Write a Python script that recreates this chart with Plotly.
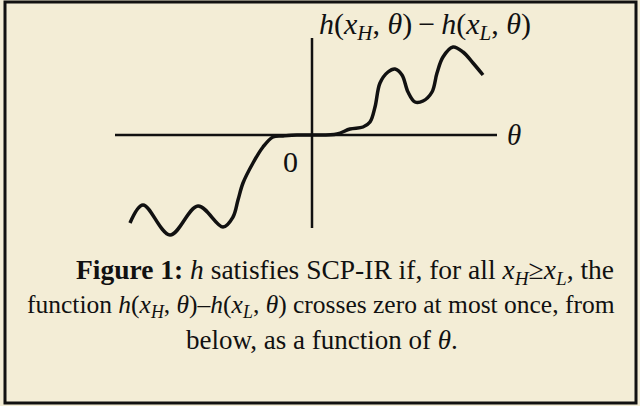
import plotly.graph_objects as go

# Sketch of h(x_H, θ) − h(x_L, θ) against θ (θ = 0 at the origin)
theta = [-18.2, -16.9, -14.2, -11.4, -8.9, -7.9, -7.4, -6.9, -5.9, -4.9, -3.9, -2.9,
         -1.5, 0.1, 2.5, 3.8, 5.1, 5.8, 6.3, 6.8, 7.6, 8.3, 9.0, 9.6, 10.3, 11.1,
         12.0, 12.5, 13.1, 14.1, 15.1, 16.1, 17.1]
h_diff = [-8.8, -7.0, -10.0, -7.1, -9.2, -8.2, -6.5, -4.8, -2.8, -1.2, -0.2, -0.1,
          0.0, 0.0, 0.1, 0.6, 0.8, 1.3, 2.8, 5.2, 6.3, 6.6, 6.0, 4.3, 3.3, 3.4,
          4.3, 6.2, 7.8, 8.8, 8.3, 7.2, 6.0]

# Extent of the drawn coordinate axes
theta_axis = [-19.7, 18.5]
h_axis = [-9.3, 9.7]

BG = "#f3edd6"
INK = "#111111"
SERIF = "Liberation Serif, Times New Roman, serif"

fig = go.Figure()

fig.add_trace(go.Scatter(x=theta_axis, y=[0, 0], mode="lines",
                         line=dict(color=INK, width=2.5), hoverinfo="skip"))
fig.add_trace(go.Scatter(x=[0, 0], y=h_axis, mode="lines",
                         line=dict(color=INK, width=2.5), hoverinfo="skip"))
fig.add_trace(go.Scatter(x=theta, y=h_diff, mode="lines",
                         line=dict(color=INK, width=3.5, shape="spline", smoothing=1.0),
                         hoverinfo="skip"))

fig.add_annotation(x=0.5, y=10.9, xanchor="left", yanchor="middle", showarrow=False,
                   text="<i>h</i>(<i>x</i><sub><i>H</i></sub>, <i>θ</i>)\u2009−\u2009<i>h</i>(<i>x</i><sub><i>L</i></sub>, <i>θ</i>)",
                   font=dict(family=SERIF, size=30, color=INK))
fig.add_annotation(x=20.2, y=0.0, xanchor="center", yanchor="middle", showarrow=False,
                   text="<i>θ</i>", font=dict(family=SERIF, size=29, color=INK))
fig.add_annotation(x=-2.2, y=-2.6, xanchor="center", yanchor="middle", showarrow=False,
                   text="0", font=dict(family=SERIF, size=30, color=INK))

caption = [
    "<b>Figure 1:</b> <i>h</i> satisfies SCP-IR if, for all <i>x</i><sub><i>H</i></sub>≥<i>x</i><sub><i>L</i></sub>, the",
    "function <i>h</i>(<i>x</i><sub><i>H</i></sub>, <i>θ</i>)–<i>h</i>(<i>x</i><sub><i>L</i></sub>, <i>θ</i>) crosses zero at most once, from",
    "below, as a function of <i>θ</i>.",
]
fig.add_annotation(x=30.4, y=-13.6, xanchor="right", yanchor="middle", showarrow=False,
                   text=caption[0], font=dict(family=SERIF, size=27.5, color=INK))
fig.add_annotation(x=0.9, y=-17.1, xanchor="center", yanchor="middle", showarrow=False,
                   text=caption[1], font=dict(family=SERIF, size=25.5, color=INK))
fig.add_annotation(x=1.0, y=-20.5, xanchor="center", yanchor="middle", showarrow=False,
                   text=caption[2], font=dict(family=SERIF, size=27, color=INK))

# Frame around the figure
fig.add_shape(type="rect", xref="paper", yref="paper",
              x0=5 / 640, x1=636 / 640, y0=1 - 403 / 406, y1=1 - 2 / 406,
              line=dict(color=INK, width=3))

fig.update_layout(
    width=640, height=406, margin=dict(l=0, r=0, t=0, b=0),
    paper_bgcolor=BG, plot_bgcolor=BG, showlegend=False,
    xaxis=dict(range=[-31.2, 32.8], visible=False, fixedrange=True),
    yaxis=dict(range=[-27.1, 13.5], visible=False, fixedrange=True),
)

fig.write_html("out.html")
